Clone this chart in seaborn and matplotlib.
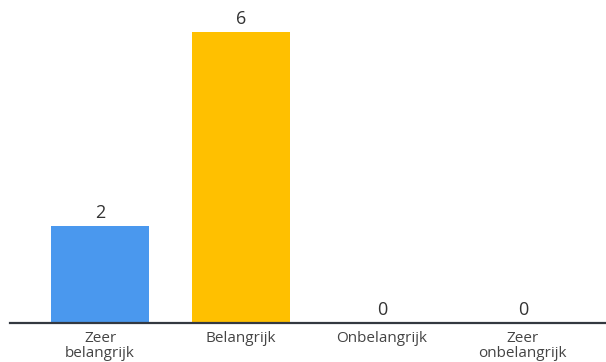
import matplotlib
matplotlib.use("Agg")
import matplotlib.pyplot as plt
import seaborn as sns
import pandas as pd

categories = ["Zeer\nbelangrijk", "Belangrijk", "Onbelangrijk", "Zeer\nonbelangrijk"]
counts = [2, 6, 0, 0]
colors = ["#4A98EE", "#FFC000", "#E0E0E0", "#E0E0E0"]

sns.set_theme(style="white")
plt.rcParams["font.family"] = ["Open Sans", "DejaVu Sans"]

df = pd.DataFrame({"category": categories, "count": counts})

fig = plt.figure(figsize=(6.06, 3.62), dpi=100)
ax = fig.add_axes([10 / 606, 39 / 362, 596 / 606, 323 / 362])

sns.barplot(data=df, x="category", y="count", hue="category",
            palette=colors, width=0.7, legend=False, ax=ax,
            edgecolor="none", saturation=1)

ax.set_xlim(-0.64, 3.59)
ax.set_ylim(0, 6.66)

for i, v in enumerate(counts):
    ax.annotate(str(v), (i, v), xytext=(0, 3), textcoords="offset points",
                ha="center", va="bottom", fontsize=13, color="#333333")

for side in ["top", "right", "left"]:
    ax.spines[side].set_visible(False)
ax.spines["bottom"].set_color("#333840")
ax.spines["bottom"].set_linewidth(1.6)

ax.set_yticks([])
ax.set_xlabel("")
ax.set_ylabel("")
ax.tick_params(axis="x", length=0, pad=5.5, labelsize=11, labelcolor="#444444")
for lbl in ax.get_xticklabels():
    lbl.set_linespacing(1.0)

fig.savefig("out.png", dpi=100, facecolor="white")
